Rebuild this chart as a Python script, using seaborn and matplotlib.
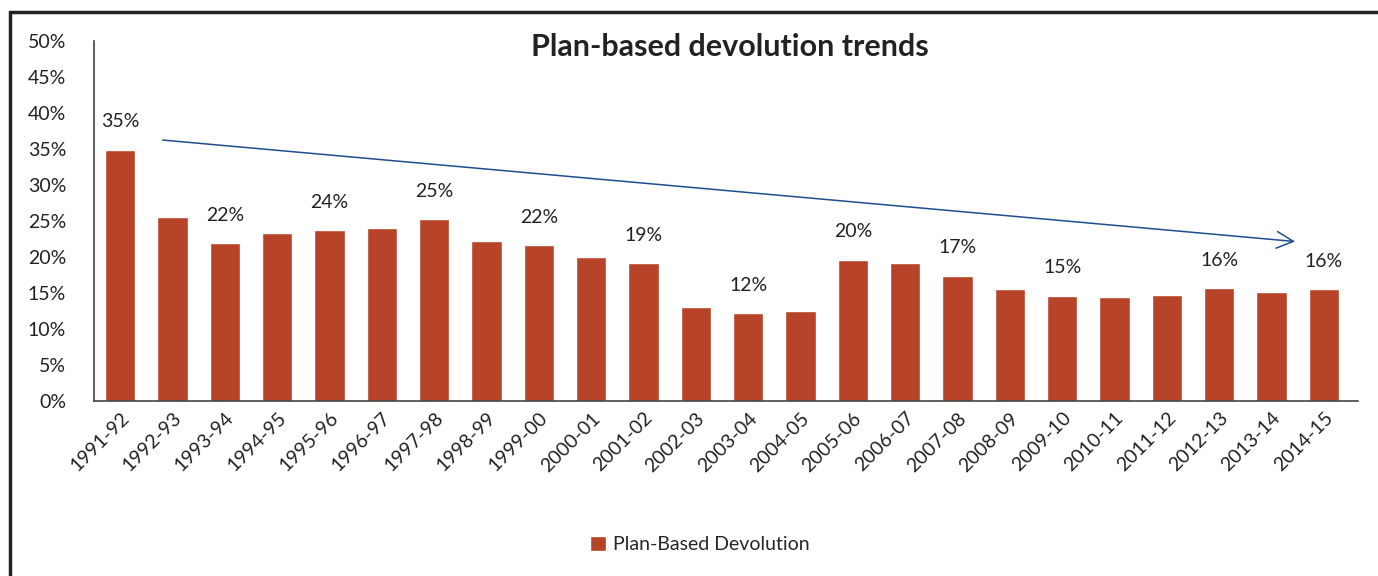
import matplotlib
matplotlib.use("Agg")
import matplotlib.pyplot as plt
import seaborn as sns
import pandas as pd
from matplotlib.patches import Rectangle
from matplotlib.ticker import FuncFormatter

years = ["1991-92", "1992-93", "1993-94", "1994-95", "1995-96", "1996-97",
         "1997-98", "1998-99", "1999-00", "2000-01", "2001-02", "2002-03",
         "2003-04", "2004-05", "2005-06", "2006-07", "2007-08", "2008-09",
         "2009-10", "2010-11", "2011-12", "2012-13", "2013-14", "2014-15"]
share = [34.9, 25.5, 21.9, 23.3, 23.7, 24.0, 25.2, 22.2, 21.6, 20.0, 19.1, 13.0,
         12.2, 12.5, 19.6, 19.2, 17.4, 15.6, 14.6, 14.4, 14.7, 15.65, 15.1, 15.55]
labelled = [0, 2, 4, 6, 8, 10, 12, 14, 16, 18, 21, 23]

df = pd.DataFrame({"year": years, "share": share})

sns.set_style("white")
plt.rcParams['font.family'] = ['Lato', 'DejaVu Sans']

bar_color = "#b74428"
fig = plt.figure(figsize=(13.78, 5.76), dpi=100)
ax = fig.add_axes([0.0682, 0.3038, 0.9173, 0.6255])

sns.barplot(data=df, x="year", y="share", color=bar_color, width=0.58,
            saturation=1, ax=ax, label="Plan-Based Devolution")

for i in labelled:
    ax.annotate(f"{share[i]:.0f}%", (i, share[i]), xytext=(0, 14),
                textcoords="offset points", ha="center", va="bottom",
                fontsize=14, color="#222222")

# downward trend arrow
ax.annotate("", xy=(22.5, 22.1), xytext=(0.76, 36.25),
            arrowprops=dict(arrowstyle="->", color="#1f4e8c", lw=1.1,
                            mutation_scale=30))

ax.set_xlim(-0.5, 23.65)
ax.set_ylim(0, 50)
ax.set_yticks(range(0, 51, 5))
ax.yaxis.set_major_formatter(FuncFormatter(lambda v, p: f"{v:.0f}%"))
ax.tick_params(axis="y", labelsize=14, length=0, pad=20, colors="#222222")
ax.tick_params(axis="x", labelsize=14, length=0, pad=6, colors="#222222")
plt.setp(ax.get_xticklabels(), rotation=45, ha="right", rotation_mode="anchor")
ax.set_xlabel("")
ax.set_ylabel("")
sns.despine(ax=ax)
for s in ["left", "bottom"]:
    ax.spines[s].set_color("#444444")
    ax.spines[s].set_linewidth(1.2)

fig.text(0.53, 0.918, "Plan-based devolution trends", ha="center", va="center",
         fontsize=22, fontweight="bold", color="#222222")

handles, labels = ax.get_legend_handles_labels()
if ax.get_legend() is not None:
    ax.get_legend().remove()
fig.legend(handles, labels, loc="center", bbox_to_anchor=(0.508, 0.055),
           frameon=False, fontsize=14, handlelength=0.8, handleheight=0.8,
           handletextpad=0.4)

fig.patches.append(Rectangle((10 / 1378, -0.05), 1.1, 1 - 12 / 576 + 0.05,
                             transform=fig.transFigure, fill=False,
                             edgecolor="#222222", linewidth=2.5))

fig.savefig("out.png", dpi=100)
